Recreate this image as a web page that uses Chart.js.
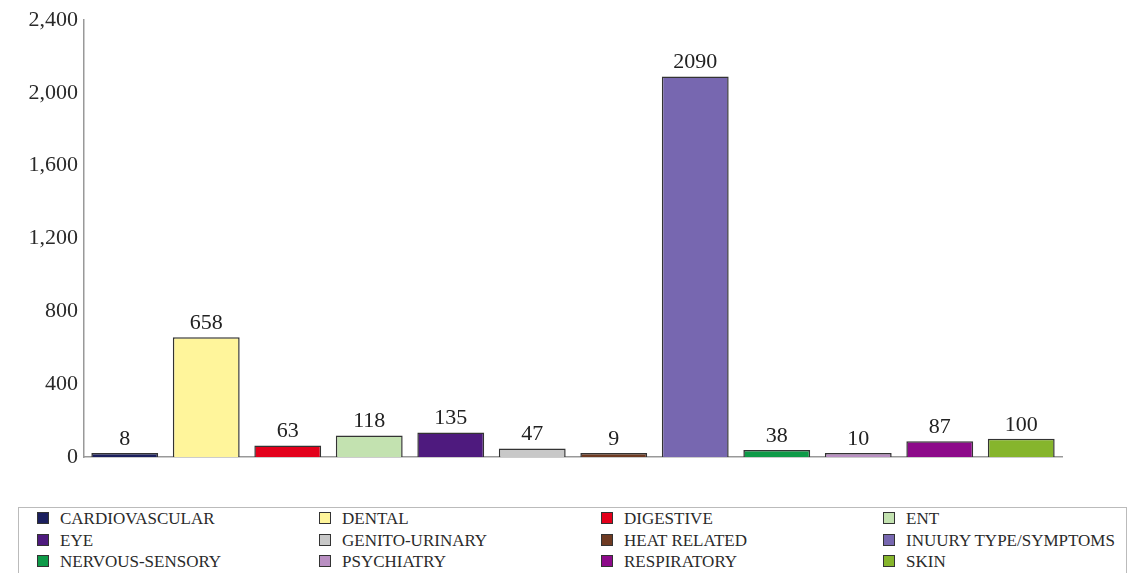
<!DOCTYPE html>
<html>
<head>
<meta charset="utf-8">
<script src="https://cdn.jsdelivr.net/npm/chart.js@4"></script>
<style>
	html, body { margin:0; padding:0; background:#fff; width:1141px; height:573px; overflow:hidden; }
	#wrap { position:relative; width:1141px; height:573px; }
	#box { position:absolute; left:0; top:0; width:1141px; height:490px; }
	#legend { position:absolute; left:18px; top:508px; width:1109px; height:70px; border:1.5px solid #bbb;
		box-sizing:border-box; padding-left:18px; display:grid; grid-template-columns:282px 282px 282px 240px;
		grid-auto-rows:21.5px; margin-top:-1px;
		font-family:'Liberation Serif', 'DejaVu Serif', serif; font-size:17px; color:#2a2a2a; line-height:21px; }
	#legend div { white-space:nowrap; }
	#legend span { display:inline-block; width:10px; height:10px; border:1.5px solid #333; margin-right:11px; vertical-align:0px; }
</style>
</head>
<body>
<div id="wrap">
	<div id="box"><canvas id="c"></canvas></div>
	<div id="legend"></div>
</div>
<script>
const categories = ['CARDIOVASCULAR','DENTAL','DIGESTIVE','ENT','EYE','GENITO-URINARY','HEAT RELATED','INUURY TYPE/SYMPTOMS','NERVOUS-SENSORY','PSYCHIATRY','RESPIRATORY','SKIN']
const counts = [8, 658, 63, 118, 135, 47, 9, 2090, 38, 10, 87, 100]
const colors = ['#1b1f5e','#fff59b','#e3001b','#c3e2b0','#4e1a7e','#c8c8c8','#6e3a22','#7767b0','#0e9a48','#b98fc2','#8d0a8a','#86b52c']
const yTicks = [0, 400, 800, 1200, 1600, 2000, 2400]

const font = "'Liberation Serif', 'DejaVu Serif', serif"

const valueLabels = {
	id:'valueLabels',
	afterDatasetsDraw(chart) {
		const ctx = chart.ctx
		ctx.save()
		ctx.font = '22px ' + font
		ctx.fillStyle = '#222'
		ctx.textAlign = 'center'
		ctx.textBaseline = 'bottom'
		chart.getDatasetMeta(0).data.forEach((bar, i) => {
			ctx.fillText(counts[i], bar.x, bar.y - 3)
		})
		ctx.restore()
	}
}

new Chart(document.getElementById('c'), {
	type:'bar',
	data:{
		labels:categories,
		datasets:[{
			data:counts,
			backgroundColor:colors,
			borderColor:'#333',
			borderWidth:1.5,
			barPercentage:0.82,
			categoryPercentage:1,
			minBarLength:4,
		}]
	},
	options:{
		responsive:true,
		maintainAspectRatio:false,
		animation:false,
		layout:{ padding:{ top:20, right:79, bottom:33, left:0 } },
		plugins:{ legend:{ display:false }, tooltip:{ enabled:false } },
		scales:{
			x:{
				grid:{ display:false, drawTicks:false },
				border:{ color:'#999', width:1.5 },
				ticks:{ display:false },
			},
			y:{
				min:0, max:2400,
				afterFit: s => { s.width = 84 },
				afterBuildTicks: s => { s.ticks = yTicks.map(v => ({ value:v })) },
				grid:{ display:false, drawTicks:false },
				border:{ color:'#999', width:1.5 },
				ticks:{ color:'#2a2a2a', padding:6, font:{ family:font, size:22 }, callback: v => v.toLocaleString('en-US') },
			}
		}
	},
	plugins:[valueLabels]
})

const lg = document.getElementById('legend')
categories.forEach((c, i) => {
	const d = document.createElement('div')
	const s = document.createElement('span')
	s.style.background = colors[i]
	d.appendChild(s)
	d.appendChild(document.createTextNode(c))
	lg.appendChild(d)
})
</script>
</body>
</html>
